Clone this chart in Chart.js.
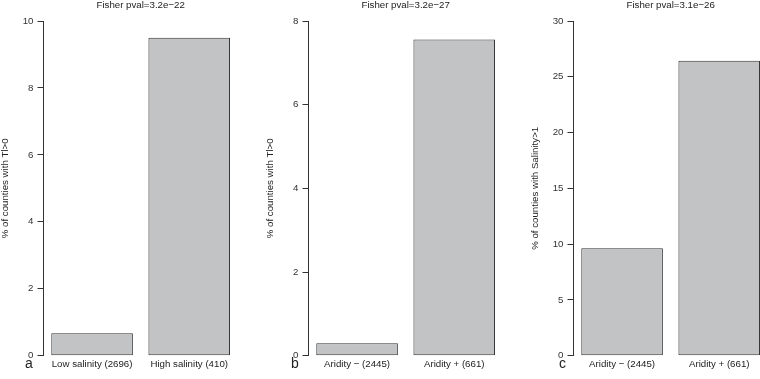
<!DOCTYPE html>
<html><head><meta charset="utf-8">
<script src="https://cdn.jsdelivr.net/npm/chart.js@4/dist/chart.umd.min.js"></script>
<style>
html,body{margin:0;padding:0;background:#fff;}
body{width:760px;height:379px;overflow:hidden;position:relative;font-family:"Liberation Sans",Arial,sans-serif;}
.pane{position:absolute;top:0;width:240px;height:379px;}
.pane canvas{display:block;}
.letter{position:absolute;font-size:14px;line-height:14px;color:#222;}
</style></head><body>
<div class="pane" style="left:0px"><canvas id="ca" width="240" height="379"></canvas></div>
<div class="pane" style="left:265px"><canvas id="cb" width="240" height="379"></canvas></div>
<div class="pane" style="left:530px"><canvas id="cc" width="240" height="379"></canvas></div>
<div class="letter" style="left:25px;top:356px">a</div>
<div class="letter" style="left:291px;top:356px">b</div>
<div class="letter" style="left:559px;top:356px">c</div>
<script>
const categoriesA = ["Low salinity (2696)", "High salinity (410)"];
const valuesA = [0.67, 9.50];
const titleA = "Fisher pval=3.2e\u221222";
const yTitleA = "% of counties with Tl>0";
const yTicksA = [0, 2, 4, 6, 8, 10];

const categoriesB = ["Aridity \u2212 (2445)", "Aridity + (661)"];
const valuesB = [0.30, 7.56];
const titleB = "Fisher pval=3.2e\u221227";
const yTitleB = "% of counties with Tl>0";
const yTicksB = [0, 2, 4, 6, 8];

const categoriesC = ["Aridity \u2212 (2445)", "Aridity + (661)"];
const valuesC = [9.63, 26.44];
const titleC = "Fisher pval=3.1e\u221226";
const yTitleC = "% of counties with Salinity>1";
const yTicksC = [0, 5, 10, 15, 20, 25, 30];

const FONT = "'Liberation Sans', Arial, Helvetica, sans-serif";
const FS = 9.7;

function makePanel(id, labels, values, title, yTitle, yTicks) {
  const yMax = yTicks[yTicks.length - 1];
  const step = yTicks[1] - yTicks[0];
  new Chart(document.getElementById(id), {
    type: 'bar',
    data: {
      labels: labels,
      datasets: [{
        data: values,
        backgroundColor: '#c2c3c5',
        borderColor: '#333333',
        borderWidth: 1,
        borderSkipped: false,
        barPercentage: 0.84,
        categoryPercentage: 1.0
      }]
    },
    options: {
      responsive: false,
      animation: false,
      devicePixelRatio: 1,
      layout: { padding: { left: 0, right: 2.2, top: 0, bottom: 0 } },
      plugins: {
        legend: { display: false },
        tooltip: { enabled: false },
        title: {
          display: true, text: title, fullSize: false, color: '#222',
          font: { family: FONT, size: FS, weight: 'normal', lineHeight: 1 },
          padding: { top: 0, bottom: 11.3 }
        }
      },
      scales: {
        x: {
          grid: { display: false, drawTicks: false },
          border: { display: false },
          ticks: { color: '#222', padding: 3, autoSkip: false, maxRotation: 0,
                   font: { family: FONT, size: FS } },
          afterFit: s => { s.height = 23.3; }
        },
        y: {
          min: 0, max: yMax,
          ticks: { stepSize: step, color: '#333', padding: 4,
                   font: { family: FONT, size: FS } },
          grid: { drawOnChartArea: false, drawTicks: true, tickLength: 6, color: '#333', lineWidth: 1 },
          border: { display: true, color: '#333', width: 1 },
          title: { display: true, text: yTitle, color: '#222', padding: 0,
                   font: { family: FONT, size: FS } },
          afterFit: s => { s.width = 43.5; }
        }
      }
    }
  });
}
makePanel('ca', categoriesA, valuesA, titleA, yTitleA, yTicksA);
makePanel('cb', categoriesB, valuesB, titleB, yTitleB, yTicksB);
makePanel('cc', categoriesC, valuesC, titleC, yTitleC, yTicksC);
</script>
</body></html>
